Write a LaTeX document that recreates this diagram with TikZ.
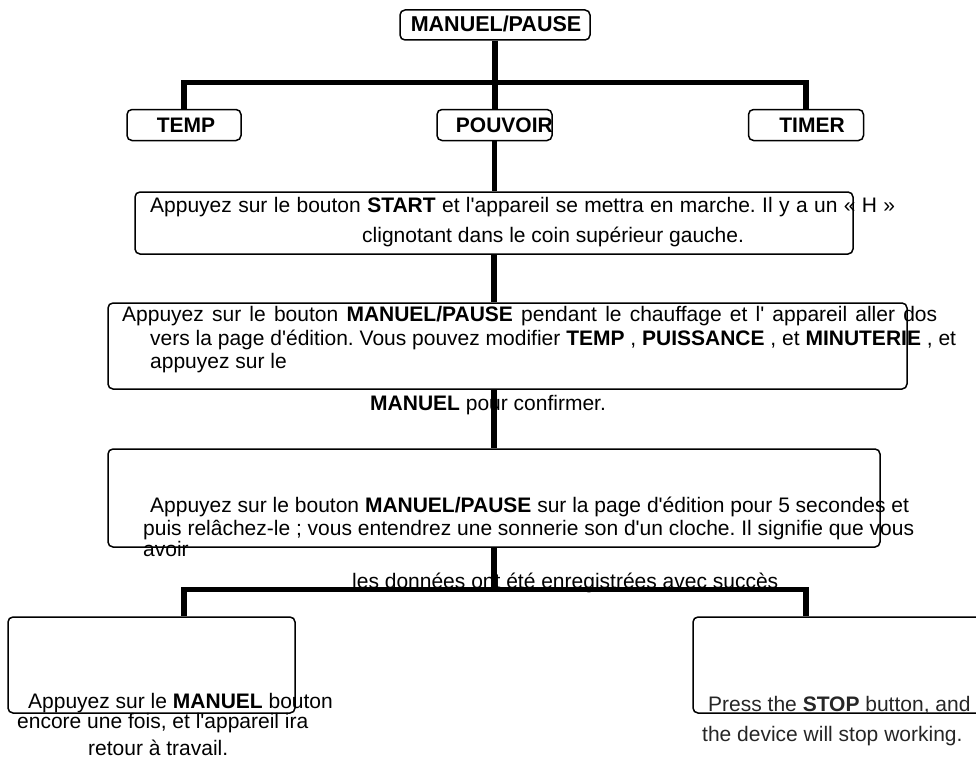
\documentclass[tikz,border=0pt]{standalone}
\usepackage{fontspec}
\setmainfont{Liberation Sans}[Ligatures=TeXOff]
\frenchspacing
\begin{document}
\begin{tikzpicture}[x=1pt,y=-1pt,
  box/.style={draw, line width=1.5pt, rounded corners=5pt, inner sep=0pt},
  conn/.style={line width=5.5pt},
  txt/.style={anchor=base west, inner sep=0pt, font=\fontsize{21}{24}\selectfont},
  lbl/.style={anchor=base, inner sep=0pt, font=\fontsize{21}{24}\selectfont\bfseries}]
\useasboundingbox (0,0) rectangle (976,760);
% boxes
\node[box, minimum width=190pt, minimum height=30pt] (top) at (495,25) {};
\node[box, minimum width=114pt, minimum height=31pt] (temp) at (184,125) {};
\node[box, minimum width=115pt, minimum height=31pt] (pouv) at (494.5,125) {};
\node[box, minimum width=115pt, minimum height=31pt] (timer) at (806,125) {};
\node[box, minimum width=718pt, minimum height=62pt] (start) at (494,223) {};
\node[box, minimum width=799pt, minimum height=86pt] (edit) at (507.5,346) {};
\node[box, minimum width=772pt, minimum height=98pt] (save) at (494,498) {};
\node[box, minimum width=287pt, minimum height=96pt] (back) at (151.5,665) {};
\node[box, minimum width=300pt, minimum height=96pt] (stop) at (843,665) {};
% labels
\node[lbl, font=\fontsize{21.5}{24}\selectfont\bfseries] (tTop) at (496,32) {MANUEL/PAUSE};
\node[lbl] (tTemp) at (186,132.5) {TEMP};
\node[lbl, anchor=base east] (tPouv) at (553,132.5) {POUVOIR};
\node[lbl] (tTimer) at (812,132.5) {TIMER};
% texts
\node[txt] (s1) at (150,212) {\hbox to 745pt{Appuyez sur le bouton \textbf{START} et l'appareil se mettra en marche. Il y a un « H »}};
\node[txt] (s2) at (362,242) {clignotant dans le coin supérieur gauche.};
\node[txt] (e1) at (122,321) {\hbox to 815pt{Appuyez sur le bouton \textbf{MANUEL/PAUSE} pendant le chauffage et l' appareil aller dos}};
\node[txt] (e2) at (150,345) {vers la page d'édition. Vous pouvez modifier \textbf{TEMP} , \textbf{PUISSANCE} , et \textbf{MINUTERIE} , et};
\node[txt] (e3) at (150,368) {appuyez sur le};
\node[txt] (e4) at (370,410) {\textbf{MANUEL} pour confirmer.};
\node[txt] (v1) at (150,512) {Appuyez sur le bouton \textbf{MANUEL/PAUSE} sur la page d'édition pour 5 secondes et};
\node[txt] (v2) at (143,535) {puis relâchez-le ; vous entendrez une sonnerie son d'un cloche. Il signifie que vous};
\node[txt] (v3) at (143,556) {avoir};
\node[txt] (v4) at (352,588) {les données ont été enregistrées avec succès};
\node[txt] (b1) at (28,708) {Appuyez sur le \textbf{MANUEL} bouton};
\node[txt] (b2) at (17,728) {encore une fois, et l'appareil ira};
\node[txt] (b3) at (88,755) {retour à travail.};
\node[txt, text=black!85] (p1) at (708,711) {Press the \textbf{STOP} button, and};
\node[txt, text=black!85] (p2) at (702,741) {the device will stop working.};
% connectors
\coordinate (barA) at (0,82.5);
\coordinate (barB) at (0,589.5);
\draw[conn] (top.south) -- (top.south |- pouv.north);
\draw[conn] (temp.north) -- (temp.north |- barA) -- (timer.north |- barA) -- (timer.north);
\draw[conn] (pouv.south) -- (pouv.south |- start.north);
\draw[conn] (start.south) -- (start.south |- edit.north);
\draw[conn] (edit.south -| start.south) -- (start.south |- save.north);
\draw[conn] (save.south) -- (save.south |- barB);
\draw[conn] (back.north -| temp.north) -- (temp.north |- barB) -- (timer.north |- barB) -- (timer.north |- stop.north);
\end{tikzpicture}
\end{document}
